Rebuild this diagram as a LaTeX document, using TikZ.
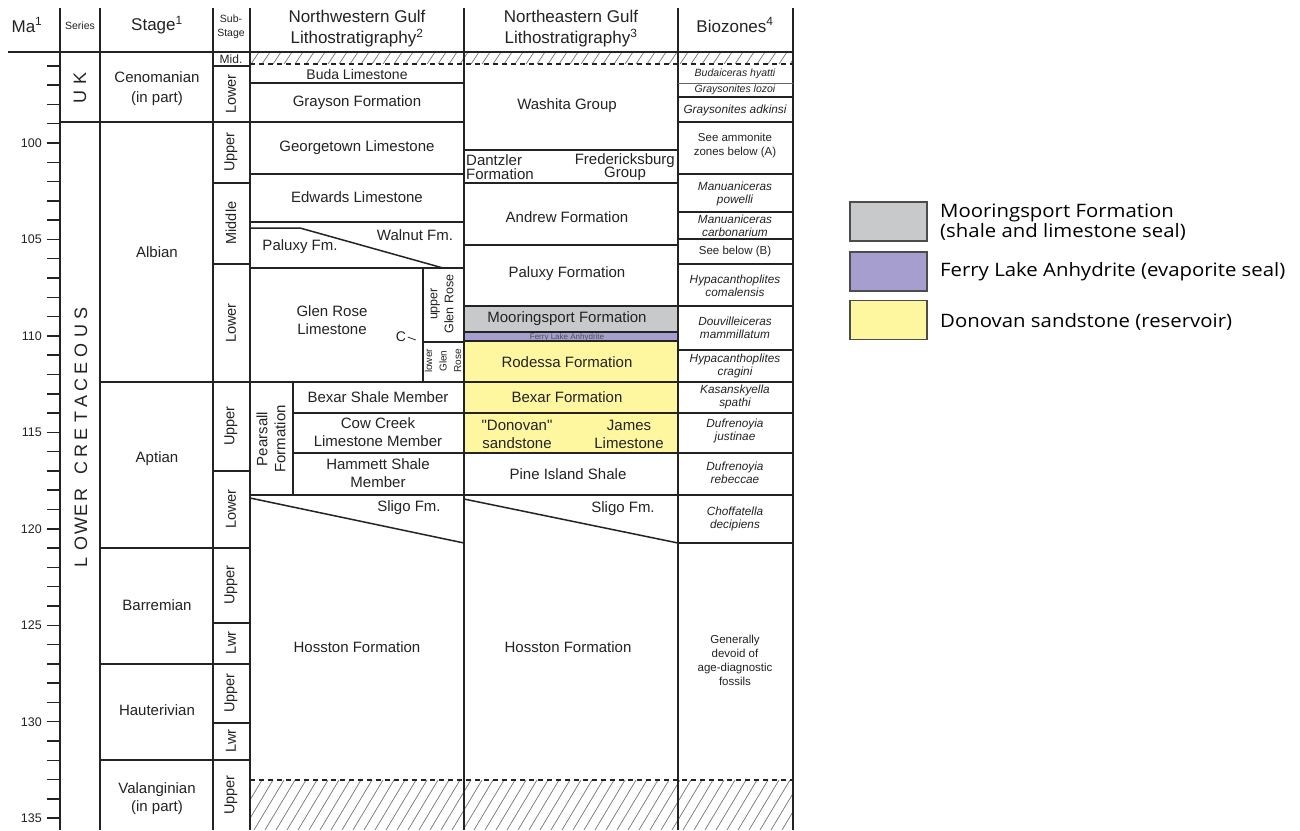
\documentclass[tikz,border=0pt]{standalone}
\usepackage{fontspec}
\setmainfont{Liberation Sans}
\newfontfamily\lsplain{Liberation Sans}
\newfontfamily\legendfont{Open Sans}[FakeStretch=1.1]
\definecolor{moorgray}{RGB}{200,201,203}
\definecolor{ferry}{RGB}{166,158,206}
\definecolor{donovan}{RGB}{255,246,160}
\definecolor{ink}{RGB}{35,35,35}
\begin{document}
\begin{tikzpicture}[x=1pt,y=-1pt,
  grid/.style={line width=1.5pt, draw=ink},
  thinline/.style={line width=0.8pt, draw=ink!70},
  tickline/.style={line width=1.5pt, draw=ink},
  hatchline/.style={line width=0.7pt, draw=black!55},
  dashline/.style={line width=1.5pt, draw=ink, dash pattern=on 5pt off 4pt},
  lbl/.style={font=\fontsize{15}{18}\selectfont, align=center, inner sep=0pt, text=ink},
  hdr/.style={font=\fontsize{17}{21}\selectfont, align=center, inner sep=0pt, text=ink},
  small/.style={font=\fontsize{10.5}{13}\selectfont, align=center, inner sep=0pt, text=ink},
  subst/.style={rotate=90, font=\fontsize{14.5}{16}\selectfont, inner sep=0pt, text=ink},
  bio/.style={font=\itshape\fontsize{11.8}{13}\selectfont, align=center, inner sep=0pt, text=ink},
  biou/.style={font=\fontsize{11.5}{14}\selectfont, align=center, inner sep=0pt, text=ink},
  malbl/.style={font=\fontsize{12.5}{14}\selectfont, anchor=east, inner sep=0pt, text=ink},
  series/.style={rotate=90, font=\fontsize{18}{20}\selectfont, inner sep=0pt, text=ink},
  legbox/.style={draw=black!70, line width=1.2pt, minimum width=77pt, minimum height=39pt, inner sep=0pt},
  legtext/.style={font=\legendfont\fontsize{18.5}{20}\selectfont, anchor=west, align=left, inner sep=0pt, text=black}
]
\useasboundingbox (0,0) rectangle (1300,830);
\fill[white] (0,0) rectangle (1300,830);

% ---------- coloured cells ----------
\fill[moorgray] (464,306) rectangle (678,332);
\fill[ferry] (464,332) rectangle (678,341);
\fill[donovan] (464,341) rectangle (678,453);

% ---------- hatching ----------
\begin{scope}
  \clip (250,52) rectangle (793,64);
  \foreach \x in {240,251,...,800} \draw[hatchline] (\x,64) -- ++(8,-12);
\end{scope}
\begin{scope}
  \clip (250,780) rectangle (793,830);
  \foreach \x in {210,221,...,800} \draw[hatchline] (\x,830) -- ++(30,-50);
\end{scope}
\draw[dashline] (250,64) -- (793,64);
\draw[dashline] (250,780) -- (793,780);

% ---------- frame ----------
\foreach \x in {60,100,213,250,464,678,793} \draw[grid] (\x,8) -- (\x,830);
\draw[grid] (8,52) -- (793,52);

% series
\draw[grid] (60,122) -- (100,122);
% stage
\foreach \y in {122,382,548,664,760} \draw[grid] (100,\y) -- (213,\y);
% substage
\foreach \y in {66,122,183,264,382,471,548,623,664,723,760} \draw[grid] (213,\y) -- (250,\y);
% NW gulf
\foreach \y in {83,122,174,222,268,382,495} \draw[grid] (250,\y) -- (464,\y);
\draw[grid] (250,228) -- (300,228) -- (443,268);
\draw[grid] (423,268) -- (423,382);
\draw[grid] (423,342) -- (464,342);
\draw[grid] (293,382) -- (293,495);
\foreach \y in {413,453} \draw[grid] (293,\y) -- (464,\y);
\draw[grid] (250,498) -- (464,543);
% NE gulf
\foreach \y in {150,183,245,306,332,341,382,413,453,495} \draw[grid] (464,\y) -- (678,\y);
\draw[grid] (464,499) -- (678,543);
% biozones
\draw[thinline] (678,83) -- (793,83);
\foreach \y in {97,122,174,212,239,264,306,350,382,413,453,495,543} \draw[grid] (678,\y) -- (793,\y);

% ---------- Ma scale ----------
\foreach \m in {96,...,135} \draw[tickline] (47,{143+(\m-100)*19.29}) -- (60,{143+(\m-100)*19.29});
\foreach \m in {100,105,...,135} \node[malbl] (ma\m) at (42,{143+(\m-100)*19.29}) {\m};

% ---------- headers ----------
\node[hdr] (hMa) at (27,25) {Ma\textsuperscript{1}};
\node[small] (hSeries) at (80,26) {Series};
\node[hdr] (hStage) at (157,25) {Stage\textsuperscript{1}};
\node[small, font=\fontsize{10.5}{14}\selectfont] (hSub) at (231,27) {Sub-\\Stage};
\node[hdr] (hNW) at (357,29) {Northwestern Gulf\\Lithostratigraphy\textsuperscript{2}};
\node[hdr] (hNE) at (571,29) {Northeastern Gulf\\Lithostratigraphy\textsuperscript{3}};
\node[hdr] (hBio) at (735,25) {Biozones\textsuperscript{4}};

% ---------- series ----------
\node[series] (uk) at (80,88) {U\hspace{6pt}K};
\foreach \l/\yy [count=\i] in {L/562,O/543,W/526,E/510,R/495,C/468,R/451,E/434,T/417,A/401,C/385,E/368,O/350,U/331,S/313}
  \node[series] (lc\i) at (81,\yy) {\l};

% ---------- stages ----------
\node[lbl, font=\fontsize{15}{20}\selectfont] (sCen) at (157,89) {Cenomanian\\(in part)};
\node[lbl] (sAlb) at (157,252) {Albian};
\node[lbl] (sApt) at (157,459) {Aptian};
\node[lbl] (sBar) at (157,605) {Barremian};
\node[lbl] (sHau) at (157,710) {Hauterivian};
\node[lbl, font=\fontsize{15}{18}\selectfont] (sVal) at (157,799) {Valanginian\\(in part)};

% ---------- substages ----------
\node[lbl, font=\fontsize{12}{14}\selectfont] (uMid) at (231,59) {Mid.};
\node[subst] (u1) at (231,94) {Lower};
\node[subst] (u2) at (231,152) {Upper};
\node[subst] (u3) at (231,223) {Middle};
\node[subst] (u4) at (231,323) {Lower};
\node[subst] (u5) at (231,426) {Upper};
\node[subst] (u6) at (231,509) {Lower};
\node[subst] (u7) at (231,585) {Upper};
\node[subst] (u8) at (231,643) {Lwr};
\node[subst] (u9) at (231,693) {Upper};
\node[subst] (u10) at (231,741) {Lwr};
\node[subst] (u11) at (231,795) {Upper};

% ---------- NW gulf ----------
\node[lbl, font=\fontsize{14}{16}\selectfont] (nBuda) at (357,74) {Buda Limestone};
\node[lbl] (nGray) at (357,103) {Grayson Formation};
\node[lbl] (nGeo) at (357,148) {Georgetown Limestone};
\node[lbl] (nEdw) at (357,197) {Edwards Limestone};
\node[lbl] (nWal) at (415,235) {Walnut Fm.};
\node[lbl] (nPal) at (300,247) {Paluxy Fm.};
\node[lbl] (nGR) at (332,320) {Glen Rose\\Limestone};
\node[lbl, font=\fontsize{14}{16}\selectfont] (nC) at (401,337) {C};
\draw[line width=0.8pt, draw=ink] ([xshift=1.5pt]nC.east) to[out=-10,in=170] ++(8,3);
\node[subst, font=\fontsize{12.5}{16}\selectfont, align=center] (nUGR) at (442,304) {upper\\Glen Rose};
\node[subst, font=\fontsize{10}{14.5}\selectfont, align=center] (nLGR) at (443,361) {lower\\Glen\\Rose};
\node[subst, font=\fontsize{15}{18}\selectfont, align=center] (nPear) at (271,439) {Pearsall\\Formation};
\node[lbl] (nBex) at (378,397) {Bexar Shale Member};
\node[lbl] (nCow) at (378,432) {Cow Creek\\Limestone Member};
\node[lbl] (nHam) at (378,473) {Hammett Shale\\Member};
\node[lbl] (nSli) at (409,508) {Sligo Fm.};
\node[lbl] (nHos) at (357,647) {Hosston Formation};

% ---------- NE gulf ----------
\node[lbl] (eWas) at (567,106) {Washita Group};
\node[lbl, font=\fontsize{15}{13.5}\selectfont, align=left, anchor=west] (eDan) at (466,167) {Dantzler\\Formation};
\node[lbl, font=\fontsize{15}{13.5}\selectfont, anchor=east] (eFre) at (675,161) {Fredericksburg};
\node[lbl, font=\fontsize{15}{13.5}\selectfont] (eGrp) at (625,174) {Group};
\node[lbl] (eAnd) at (567,217) {Andrew Formation};
\node[lbl] (ePal) at (567,274) {Paluxy Formation};
\node[lbl] (eMoo) at (567,319) {Mooringsport Formation};
\node[lbl, font=\fontsize{8}{9}\selectfont, text=ink!80] (eFer) at (567,337) {Ferry Lake Anhydrite};
\node[lbl] (eRod) at (567,362) {Rodessa Formation};
\node[lbl] (eBex) at (567,397) {Bexar Formation};
\node[lbl, font=\lsplain\fontsize{15}{18}\selectfont] (eDon) at (517,434) {"Donovan"\\sandstone};
\node[lbl] (eJam) at (629,434) {James\\Limestone};
\node[lbl] (ePin) at (568,474) {Pine Island Shale};
\node[lbl] (eSli) at (623,509) {Sligo Fm.};
\node[lbl] (eHos) at (568,647) {Hosston Formation};

% ---------- biozones ----------
\node[bio, font=\itshape\fontsize{10.5}{12}\selectfont] (b1) at (735,74) {Budaiceras hyatti};
\node[bio, font=\itshape\fontsize{10.5}{12}\selectfont] (b2) at (735,90) {Graysonites lozoi};
\node[bio] (b3) at (735,110) {Graysonites adkinsi};
\node[biou] (b4) at (735,146) {See ammonite\\zones below (A)};
\node[bio] (b5) at (735,194) {Manuaniceras\\powelli};
\node[bio] (b6) at (735,226) {Manuaniceras\\carbonarium};
\node[biou] (b7) at (735,252) {See below (B)};
\node[bio] (b8) at (735,286) {Hypacanthoplites\\comalensis};
\node[bio] (b9) at (735,328) {Douvilleiceras\\mammillatum};
\node[bio] (b10) at (735,366) {Hypacanthoplites\\cragini};
\node[bio] (b11) at (735,397) {Kasanskyella\\spathi};
\node[bio] (b12) at (735,431) {Dufrenoyia\\justinae};
\node[bio] (b13) at (735,473) {Dufrenoyia\\rebeccae};
\node[bio] (b14) at (735,519) {Choffatella\\decipiens};
\node[biou] (b15) at (735,660) {Generally\\devoid of\\age-diagnostic\\fossils};

% ---------- legend ----------
\node[legbox, fill=moorgray] (lg1) at (888.5,221.5) {};
\node[legbox, fill=ferry] (lg2) at (888.5,271.5) {};
\node[legbox, fill=donovan] (lg3) at (888.5,320) {};
\node[legtext, font=\legendfont\fontsize{18.5}{20}\selectfont] (lt1) at (940,222) {Mooringsport Formation\\(shale and limestone seal)};
\node[legtext] (lt2) at (940,272) {Ferry Lake Anhydrite (evaporite seal)};
\node[legtext] (lt3) at (940,322) {Donovan sandstone (reservoir)};
\end{tikzpicture}
\end{document}
